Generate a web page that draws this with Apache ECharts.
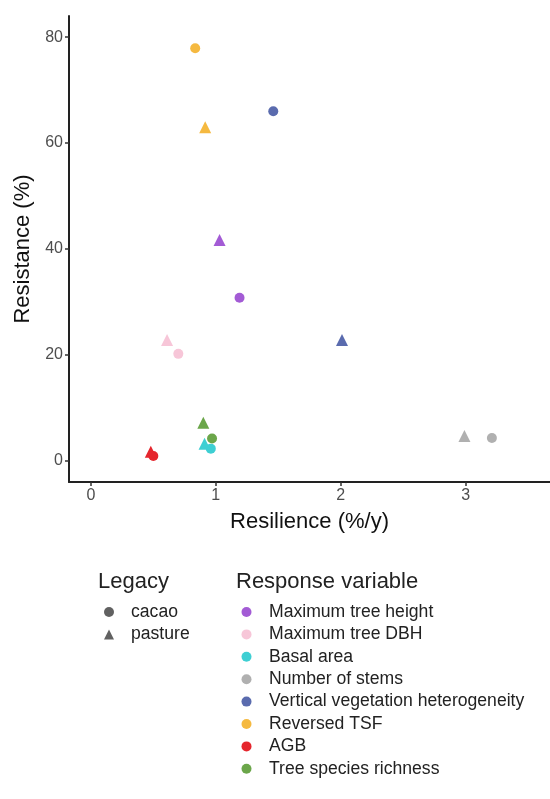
<!DOCTYPE html>
<html>
<head>
<meta charset="utf-8">
<script src="https://cdn.jsdelivr.net/npm/echarts@6/dist/echarts.min.js"></script>
<style>
  html, body { margin: 0; padding: 0; background: #fff; }
  #main { width: 550px; height: 799px; }
</style>
</head>
<body>
<div id="main"></div>
<script>
// response variables, in legend order
var variables = ['Maximum tree height', 'Maximum tree DBH', 'Basal area', 'Number of stems',
  'Vertical vegetation heterogeneity', 'Reversed TSF', 'AGB', 'Tree species richness'];
var colors = ['#A35BD5', '#F7C6D8', '#3ECFD3', '#B0B0B0', '#5A6BAE', '#F5B940', '#E5262D', '#6BA64A'];

// legacy = cacao (circles)
var cacaoResilience = [1.19, 0.70, 0.96, 3.21, 1.46, 0.835, 0.50, 0.97];
var cacaoResistance = [30.8, 20.2, 2.3, 4.3, 66.0, 77.9, 0.9, 4.2];
// legacy = pasture (triangles)
var pastureResilience = [1.03, 0.61, 0.91, 2.99, 2.01, 0.915, 0.48, 0.90];
var pastureResistance = [41.7, 22.8, 3.2, 4.7, 22.8, 63.0, 1.7, 7.2];

var legacies = ['cacao', 'pasture'];
var xTicks = [0, 1, 2, 3];
var yTicks = [0, 20, 40, 60, 80];

var font = 'Liberation Sans, Arial, Helvetica, sans-serif';
var myChart = echarts.init(document.getElementById('main'));

var series = [];
variables.forEach(function (name, i) {
  series.push({
    name: name,
    type: 'scatter',
    itemStyle: { color: colors[i], opacity: 1 },
    emphasis: { disabled: true },
    data: [
      { value: [cacaoResilience[i], cacaoResistance[i]], symbol: 'circle', symbolSize: 10 },
      { value: [pastureResilience[i], pastureResistance[i]], symbol: 'triangle', symbolSize: 12 }
    ]
  });
});
// shape-only series for the Legacy legend
series.push({ name: 'cacao', type: 'scatter', symbol: 'circle', itemStyle: { color: '#3a3a3a' }, data: [] });
series.push({ name: 'pasture', type: 'scatter', symbol: 'triangle', itemStyle: { color: '#3a3a3a' }, data: [] });

var option = {
  animation: false,
  textStyle: { fontFamily: font },
  grid: { left: 69, top: 16, right: -3, bottom: 317, containLabel: false },
  title: [
    { text: 'Legacy', left: 98, top: 571, padding: 0, textStyle: { fontFamily: font, fontSize: 22, fontWeight: 'normal', color: '#222' } },
    { text: 'Response variable', left: 236, top: 571, padding: 0, textStyle: { fontFamily: font, fontSize: 22, fontWeight: 'normal', color: '#222' } }
  ],
  legend: [
    {
      orient: 'vertical', left: 104, top: 603, padding: 0,
      itemWidth: 10, itemHeight: 10, itemGap: 4.4,
      selectedMode: false,
      data: [{ name: legacies[0], icon: 'circle' }, { name: legacies[1], icon: 'triangle' }],
      textStyle: { fontFamily: font, fontSize: 17.6, lineHeight: 17, color: '#222', padding: [0, 0, 0, 12] }
    },
    {
      orient: 'vertical', left: 241.5, top: 603, padding: 0,
      itemWidth: 10, itemHeight: 10, itemGap: 4.4,
      selectedMode: false,
      data: variables.map(function (v) { return { name: v, icon: 'circle' }; }),
      textStyle: { fontFamily: font, fontSize: 17.6, lineHeight: 17, color: '#222', padding: [0, 0, 0, 12.5] }
    }
  ],
  xAxis: {
    type: 'value', min: -0.175, max: 3.675,
    name: 'Resilience (%/y)', nameLocation: 'middle', nameGap: 29,
    nameTextStyle: { fontFamily: font, fontSize: 22, color: '#111' },
    axisLine: { show: true, onZero: false, lineStyle: { color: '#222', width: 2 } },
    axisTick: { show: true, length: 4, customValues: xTicks, lineStyle: { color: '#333', width: 1.5 } },
    axisLabel: { customValues: xTicks, fontFamily: font, fontSize: 16, color: '#4D4D4D', margin: 6 },
    splitLine: { show: false }
  },
  yAxis: {
    type: 'value', min: -4, max: 84,
    name: 'Resistance (%)', nameLocation: 'middle', nameGap: 35,
    nameTextStyle: { fontFamily: font, fontSize: 22, color: '#111' },
    axisLine: { show: true, onZero: false, lineStyle: { color: '#222', width: 2 } },
    axisTick: { show: true, length: 4, customValues: yTicks, lineStyle: { color: '#333', width: 1.5 } },
    axisLabel: { customValues: yTicks, fontFamily: font, fontSize: 16, color: '#4D4D4D', margin: 6 },
    splitLine: { show: false }
  },
  series: series
};

option && myChart.setOption(option);
</script>
</body>
</html>
